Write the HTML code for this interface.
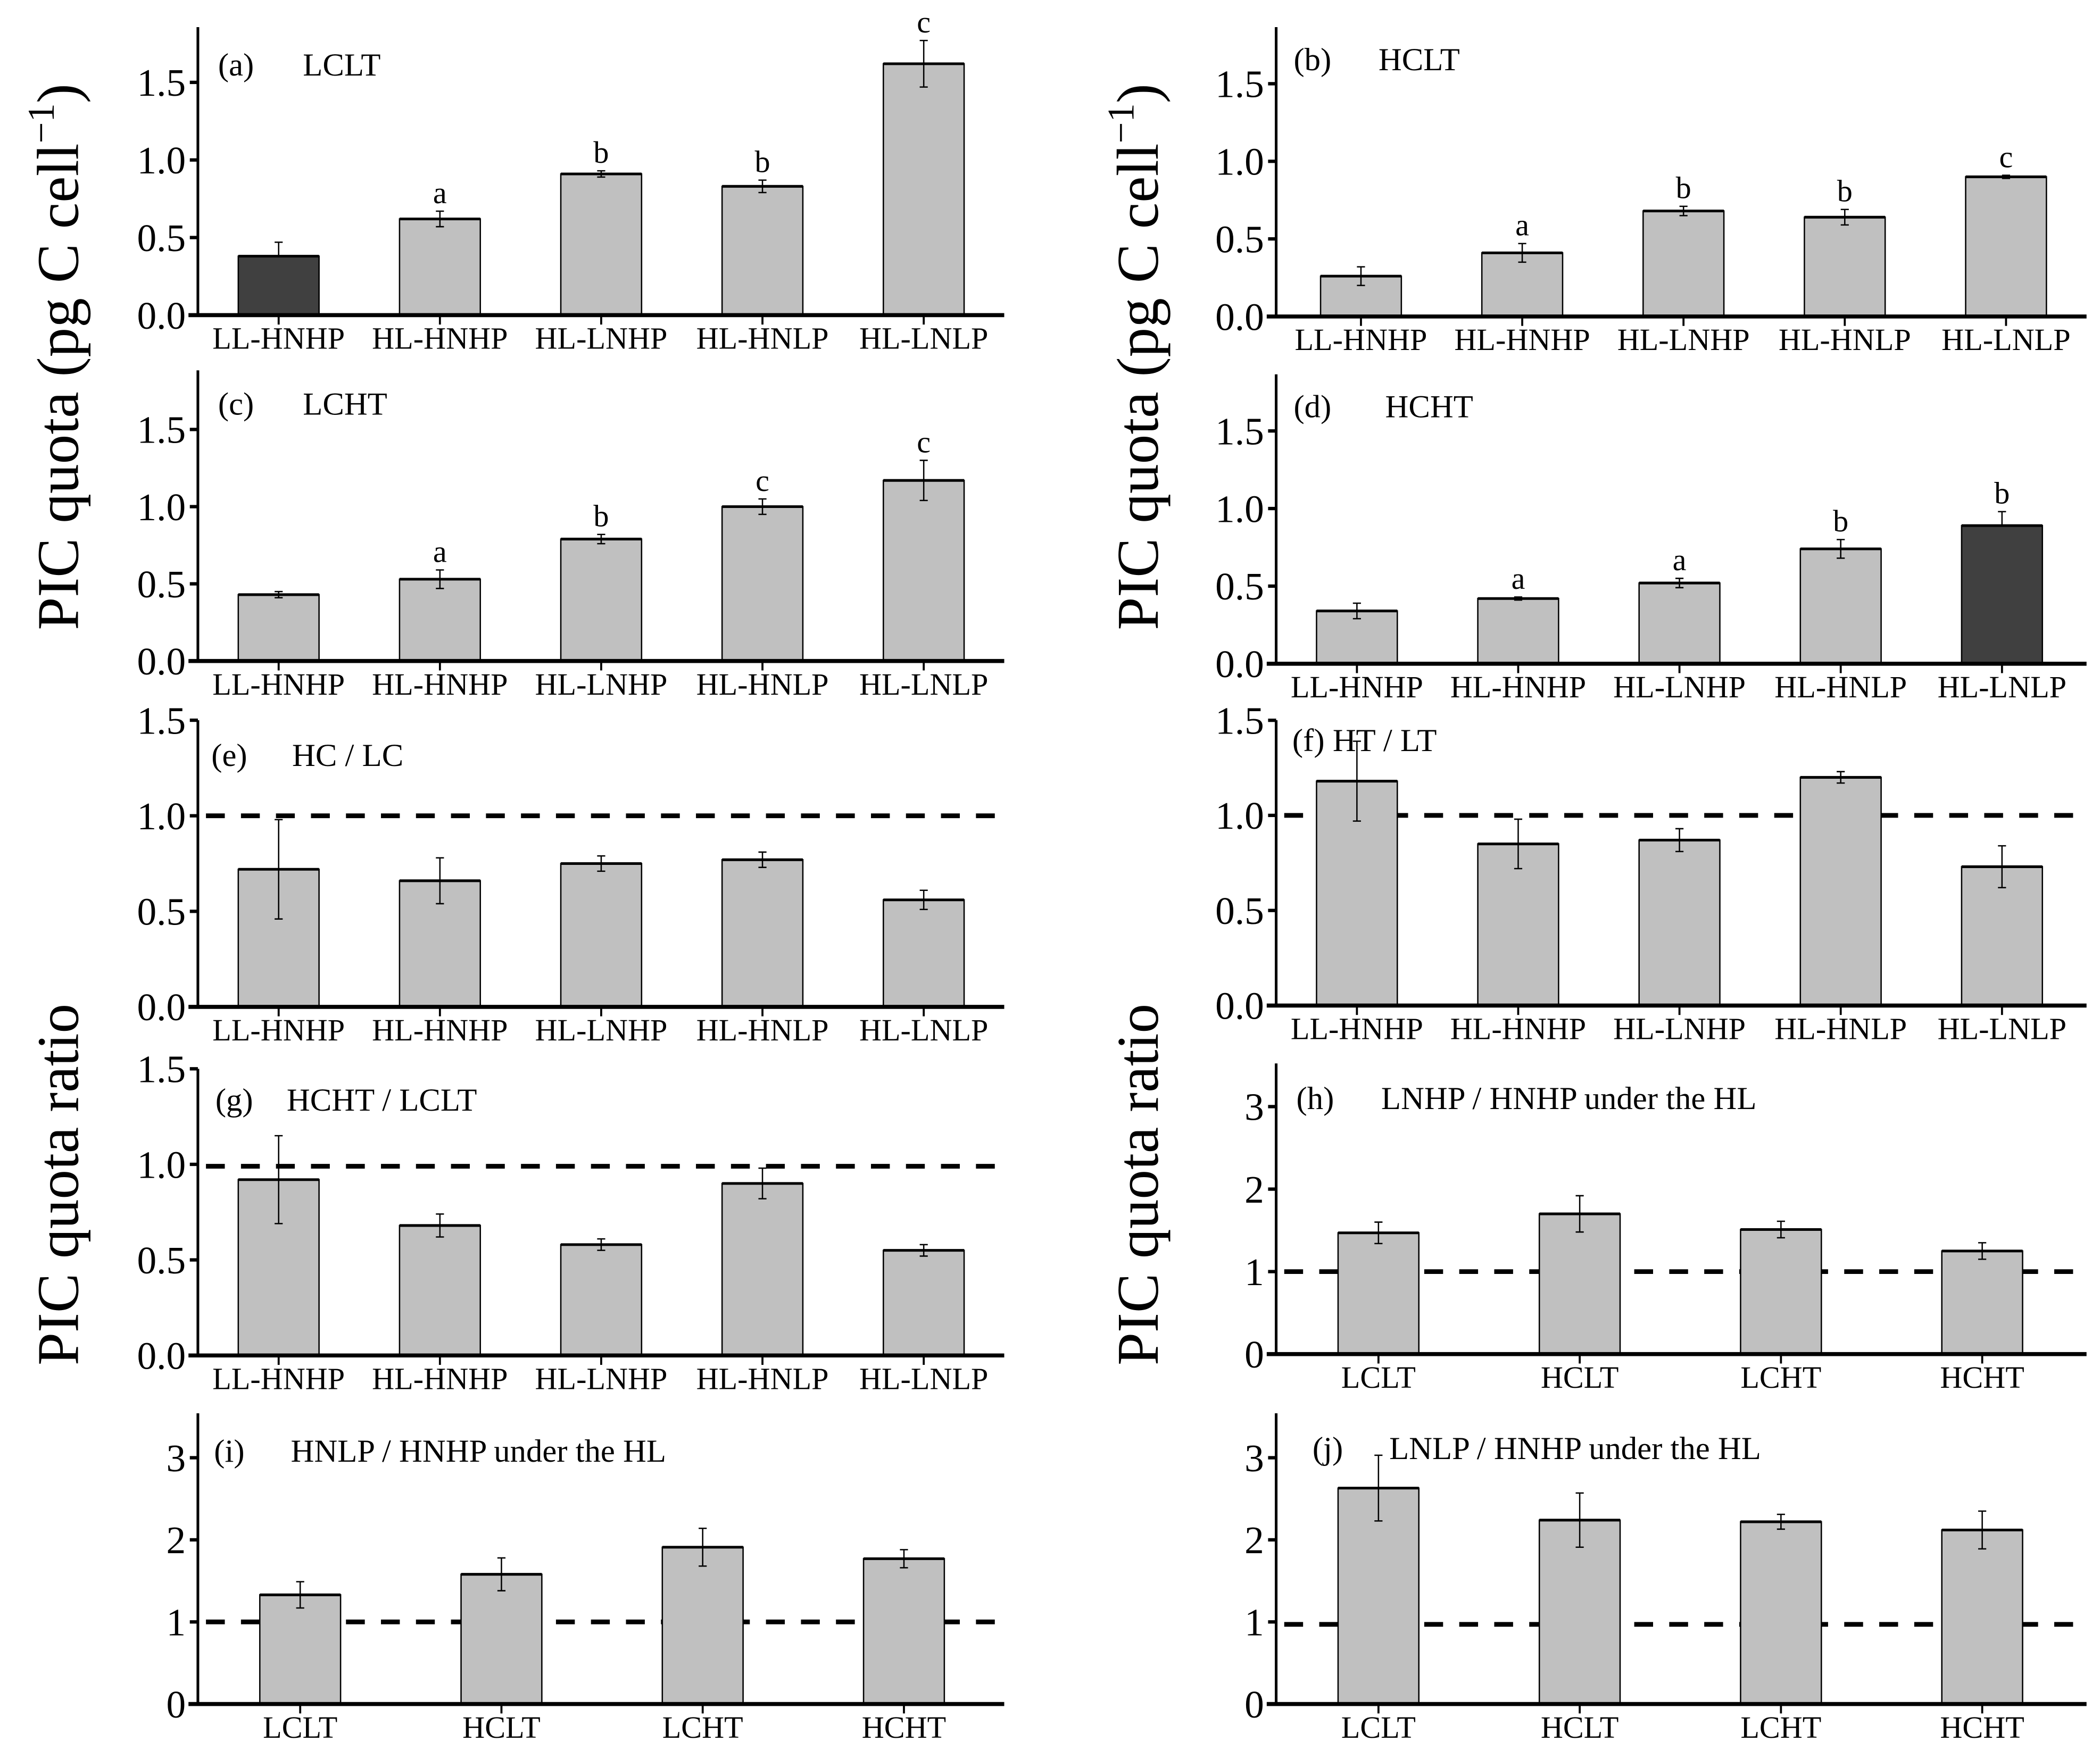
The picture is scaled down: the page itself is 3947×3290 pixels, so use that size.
<!DOCTYPE html>
<html><head><meta charset="utf-8"><style>
html,body{margin:0;padding:0;background:#fff;}
svg{display:block;font-family:"Liberation Serif",serif;}
</style></head><body>
<svg id="fig" width="3947" height="3290" viewBox="0 0 1560 1300" xmlns="http://www.w3.org/2000/svg">
<text transform="translate(58,265) rotate(-90)" text-anchor="middle" font-size="44">PIC quota (pg C cell<tspan dy="-18" font-size="28">−1</tspan><tspan dy="18">)</tspan></text>
<text transform="translate(860,265) rotate(-90)" text-anchor="middle" font-size="44">PIC quota (pg C cell<tspan dy="-18" font-size="28">−1</tspan><tspan dy="18">)</tspan></text>
<text transform="translate(58,880) rotate(-90)" text-anchor="middle" font-size="44">PIC quota ratio</text>
<text transform="translate(860,880) rotate(-90)" text-anchor="middle" font-size="44">PIC quota ratio</text>
</svg>
<script>
const cats5 = ["LL-HNHP","HL-HNHP","HL-LNHP","HL-HNLP","HL-LNLP"];
const cats4 = ["LCLT","HCLT","LCHT","HCHT"];
const ticksQ = [0,0.5,1.0,1.5];
const tickLabelsQ = ["0.0","0.5","1.0","1.5"];
const ticksR = [0,1,2,3];
const tickLabelsR = ["0","1","2","3"];
const valA = [0.38,0.62,0.91,0.83,1.62];
const errA = [0.09,0.05,0.02,0.04,0.15];
const letA = ["","a","b","b","c"];
const valB = [0.26,0.41,0.68,0.64,0.90];
const errB = [0.06,0.06,0.03,0.05,0.01];
const letB = ["","a","b","b","c"];
const valC = [0.43,0.53,0.79,1.00,1.17];
const errC = [0.02,0.06,0.03,0.05,0.13];
const letC = ["","a","b","c","c"];
const valD = [0.34,0.42,0.52,0.74,0.89];
const errD = [0.05,0.01,0.03,0.06,0.09];
const letD = ["","a","a","b","b"];
const valE = [0.72,0.66,0.75,0.77,0.56];
const errE = [0.26,0.12,0.04,0.04,0.05];
const valF = [1.18,0.85,0.87,1.20,0.73];
const errF = [0.21,0.13,0.06,0.03,0.11];
const valG = [0.92,0.68,0.58,0.90,0.55];
const errG = [0.23,0.06,0.03,0.08,0.03];
const valH = [1.47,1.70,1.51,1.25];
const errH = [0.13,0.22,0.10,0.10];
const valI = [1.33,1.58,1.91,1.77];
const errI = [0.16,0.20,0.23,0.11];
const valJ = [2.63,2.24,2.22,2.12];
const errJ = [0.40,0.33,0.09,0.23];

const NS="http://www.w3.org/2000/svg";
const svg=document.getElementById('fig');
function mk(tag,attrs,parent){const e=document.createElementNS(NS,tag);for(const k in attrs)e.setAttribute(k,attrs[k]);(parent||svg).appendChild(e);return e;}

function panel(o){
  const g=mk('g',{});
  
  
  const yS=v=>o.y0-(v-o.ymin)*o.ppu;
  const n=o.cats.length;
  const xS=i=>o.x0+o.pad+i*o.step;
  const ya=mk('line',{x1:o.x0,y1:o.top,x2:o.x0,y2:o.y0,stroke:'#000','stroke-width':2},g);
  
  
  if(o.ref!==undefined){
    const d=mk('line',{x1:o.x0+6,y1:yS(o.ref),x2:o.xEnd-4,y2:yS(o.ref),stroke:'#000','stroke-width':3.5,'stroke-dasharray':'14,12'},g);
    
    
  }
  for(let i=0;i<n;i++){
    const v=o.vals[i],e=o.errs[i],cx=xS(i),w=60;
    const b=mk('rect',{x:cx-w/2,y:yS(v),width:w,height:o.y0-yS(v),fill:(o.dark&&o.dark[i])?'#404040':'#c0c0c0',stroke:'#000','stroke-width':1},g);
    
    
    mk('line',{x1:cx-30,y1:yS(v),x2:cx+30,y2:yS(v),stroke:'#000','stroke-width':2},g);
    const top=yS(v+e), bot=(o.dark&&o.dark[i])?yS(v):yS(v-e);
    const eb=mk('path',{d:`M${cx},${top}V${bot}M${cx-3},${top}H${cx+3}M${cx-3},${bot}H${cx+3}`,stroke:'#000','stroke-width':1,fill:'none'},g);
    
    
    if(o.lets&&o.lets[i]){
      const t=mk('text',{x:cx,y:top-6,'text-anchor':'middle','font-size':23},g);
      t.textContent=o.lets[i];
      
      
    }
    mk('line',{x1:cx,y1:o.y0,x2:cx,y2:o.y0+7,stroke:'#000','stroke-width':1.5},g);
    const cl=mk('text',{x:cx,y:o.y0+25,'text-anchor':'middle','font-size':o.catFont},g);
    cl.textContent=o.cats[i];
    
    
  }
  const xa=mk('line',{x1:o.x0-7,y1:o.y0,x2:o.xEnd,y2:o.y0,stroke:'#000','stroke-width':3},g);
  
  
  for(let k=0;k<o.ticks.length;k++){
    const y=yS(o.ticks[k]);
    mk('line',{x1:o.x0-6,y1:y,x2:o.x0,y2:y,stroke:'#000','stroke-width':2.5},g);
    const t=mk('text',{x:o.x0-9,y:y+10,'text-anchor':'end','font-size':29},g);
    t.textContent=o.tickLabels[k];
    
    
  }
  const pl=mk('text',{x:o.x0+o.lx,y:o.top+o.ly,'font-size':24},g);
  pl.textContent=o.code;
  
  
  const pt=mk('text',{x:o.x0+o.lx+o.tdx,y:o.top+o.ly,'font-size':24},g);
  pt.textContent=o.title;
  
  
}
const q={ymin:0,ticks:ticksQ,tickLabels:tickLabelsQ,cats:cats5,pad:60,step:119.8,catFont:23,tdx:63};
const r={ymin:0,ticks:ticksR,tickLabels:tickLabelsR,cats:cats4,pad:76,step:149.5,catFont:23,ref:1,tdx:63};
panel(Object.assign({},q,{id:'a',x0:147,xEnd:746,y0:234,ppu:115.3,top:20,vals:valA,errs:errA,lets:letA,dark:[1,0,0,0,0],code:'(a)',title:'LCLT',lx:15,ly:36}));
panel(Object.assign({},q,{id:'b',x0:948,xEnd:1550,y0:235,ppu:115.3,top:20,vals:valB,errs:errB,lets:letB,code:'(b)',title:'HCLT',lx:13,ly:32,pad:63}));
panel(Object.assign({},q,{id:'c',x0:147,xEnd:746,y0:491,ppu:114.7,top:275,vals:valC,errs:errC,lets:letC,code:'(c)',title:'LCHT',lx:15,ly:33}));
panel(Object.assign({},q,{id:'d',x0:948,xEnd:1550,y0:493,ppu:115.3,top:278,vals:valD,errs:errD,lets:letD,dark:[0,0,0,0,1],code:'(d)',title:'HCHT',lx:13,ly:32,tdx:68}));
panel(Object.assign({},q,{id:'e',x0:147,xEnd:746,y0:748,ppu:142,top:535,vals:valE,errs:errE,ref:1,code:'(e)',title:'HC / LC',lx:10,ly:34,tdx:60}));
panel(Object.assign({},q,{id:'f',x0:948,xEnd:1550,y0:747,ppu:141.3,top:535,vals:valF,errs:errF,ref:1,code:'(f)',title:'HT / LT',lx:12,ly:23,tdx:30}));
panel(Object.assign({},q,{id:'g',x0:147,xEnd:746,y0:1007,ppu:142,top:794,vals:valG,errs:errG,ref:0.99,code:'(g)',title:'HCHT / LCLT',lx:13,ly:31,tdx:53}));
panel(Object.assign({},r,{id:'h',x0:948,xEnd:1550,y0:1006,ppu:61.3,top:790,vals:valH,errs:errH,code:'(h)',title:'LNHP / HNHP under the HL',lx:15,ly:34}));
panel(Object.assign({},r,{id:'i',x0:147,xEnd:746,y0:1266,ppu:61,top:1050,vals:valI,errs:errI,code:'(i)',title:'HNLP / HNHP under the HL',lx:12,ly:36,tdx:57}));
panel(Object.assign({},r,{id:'j',x0:948,xEnd:1550,y0:1266,ppu:61,top:1050,vals:valJ,errs:errJ,ref:0.97,code:'(j)',title:'LNLP / HNHP under the HL',lx:27,ly:34,tdx:57}));
</script>
</body></html>
